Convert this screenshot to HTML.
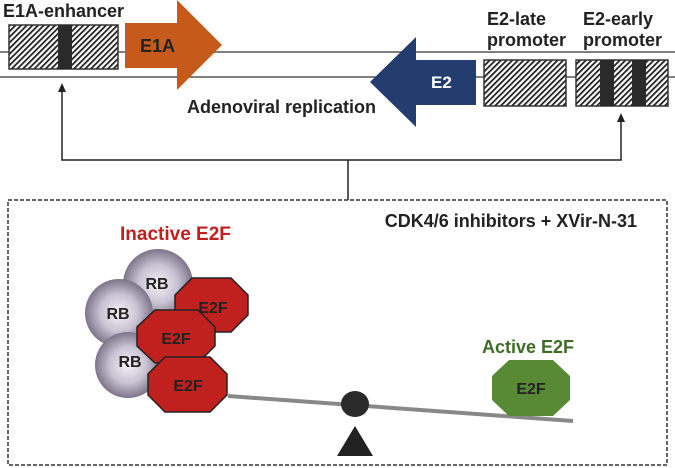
<!DOCTYPE html>
<html><head><style>
html,body{margin:0;padding:0;background:#fff;}
svg{display:block;font-family:"Liberation Sans",Arial,sans-serif;font-weight:bold;}
</style></head><body>
<svg width="675" height="468" viewBox="0 0 675 468" xmlns="http://www.w3.org/2000/svg">
<defs>
<pattern id="h" patternUnits="userSpaceOnUse" width="4" height="4" patternTransform="rotate(45)">
<rect width="4" height="4" fill="#fff"/><rect width="1.8" height="4" fill="#222"/>
</pattern>
<radialGradient id="rb" cx="0.5" cy="0.5" r="0.5">
<stop offset="0" stop-color="#f4f2f8"/><stop offset="0.55" stop-color="#c9c3d3"/><stop offset="1" stop-color="#7d7489"/>
</radialGradient>
</defs>
<line x1="0" y1="52" x2="675" y2="52" stroke="#555" stroke-width="1.5"/>
<line x1="0" y1="77" x2="675" y2="77" stroke="#555" stroke-width="1.5"/>
<text x="3" y="17" font-size="18" fill="#222">E1A-enhancer</text>
<rect x="9" y="25" width="109" height="44" fill="url(#h)" stroke="#333" stroke-width="1.5"/>
<rect x="58" y="25" width="14" height="44" fill="#2a2a2a"/>
<polygon points="125,23 177,23 177,0 222,45 177,90 177,68 125,68" fill="#c55a1a"/>
<text x="140" y="52" font-size="18" fill="#222">E1A</text>
<polygon points="476,60 416,60 416,37 370,82 416,127 416,105 476,105" fill="#233d6e"/>
<text x="431" y="88" font-size="17" fill="#fff">E2</text>
<text x="187" y="113" font-size="18" fill="#222">Adenoviral replication</text>
<text x="487" y="25" font-size="18" fill="#222">E2-late</text>
<text x="487" y="46" font-size="18" fill="#222">promoter</text>
<text x="583" y="25" font-size="18" fill="#222">E2-early</text>
<text x="583" y="46" font-size="18" fill="#222">promoter</text>
<rect x="484" y="60" width="82" height="46" fill="url(#h)" stroke="#333" stroke-width="1.5"/>
<rect x="576" y="60" width="92" height="46" fill="url(#h)" stroke="#333" stroke-width="1.5"/>
<rect x="600" y="60" width="14" height="46" fill="#2a2a2a"/>
<rect x="632" y="60" width="14" height="46" fill="#2a2a2a"/>
<g stroke="#222" stroke-width="1.5" fill="none">
<polyline points="62,90 62,160 621,160 621,120"/>
<line x1="348" y1="160" x2="348" y2="200"/>
</g>
<polygon points="62,83 58,92 66,92" fill="#222"/>
<polygon points="621,113 617,122 625,122" fill="#222"/>
<rect x="8" y="200" width="659" height="265" fill="none" stroke="#333" stroke-width="1.5" stroke-dasharray="4,2"/>
<text x="637" y="227" font-size="18" fill="#222" text-anchor="end">CDK4/6 inhibitors + XVir-N-31</text>
<text x="120" y="240" font-size="19" fill="#c0201e">Inactive E2F</text>
<circle cx="158" cy="284" r="35" fill="url(#rb)"/>
<circle cx="119" cy="313" r="34" fill="url(#rb)"/>
<circle cx="128" cy="365" r="33" fill="url(#rb)"/>
<text x="157" y="289" font-size="16" fill="#222" text-anchor="middle">RB</text>
<text x="118" y="319" font-size="16" fill="#222" text-anchor="middle">RB</text>
<text x="130" y="367" font-size="16" fill="#222" text-anchor="middle">RB</text>
<g stroke="#222" stroke-width="1.5" fill="#c0201e">
<polygon points="192,278 231,278 248,295 248,315 231,332 192,332 175,315 175,295"/>
<polygon points="155,310 198,310 215,327 215,346 198,363 155,363 137,346 137,327"/>
<polygon points="165,357 210,357 227,374 227,395 210,412 165,412 148,395 148,374"/>
</g>
<text x="213" y="313" font-size="16" fill="#222" text-anchor="middle">E2F</text>
<text x="176" y="344" font-size="16" fill="#222" text-anchor="middle">E2F</text>
<text x="188" y="391" font-size="16" fill="#222" text-anchor="middle">E2F</text>
<line x1="228" y1="396" x2="573" y2="421" stroke="#888" stroke-width="4"/>
<ellipse cx="355" cy="404" rx="14" ry="13" fill="#2a2a2a"/>
<polygon points="355,426 337,456 373,456" fill="#222"/>
<text x="482" y="353" font-size="18" fill="#3f6d25">Active E2F</text>
<polygon points="509,360 553,360 570,376 570,400 553,416 509,416 492,400 492,376" fill="#588a36"/>
<text x="531" y="394" font-size="16" fill="#222" text-anchor="middle">E2F</text>
</svg>
</body></html>
